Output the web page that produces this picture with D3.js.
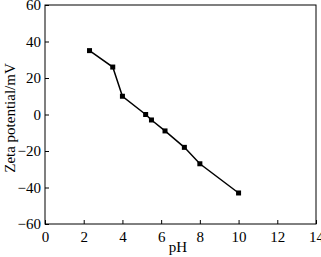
<html>
<script src="https://cdn.jsdelivr.net/npm/d3@7/dist/d3.min.js"></script>
<style>
body { margin:0; background:#fff; }
text { font-family: "Liberation Serif", "Times New Roman", serif; }
</style>
<body>
<div id="chart"></div>
</body>
<script>

// data
pH   = [2.3, 3.5, 4.0, 5.2, 5.5, 6.2, 7.2, 8.0, 10.0]
zeta = [35, 26, 10, 0, -3, -9, -18, -27, -43]
xTicks = [0, 2, 4, 6, 8, 10, 12, 14]
yTicks = [-60, -40, -20, 0, 20, 40, 60]

W = 321, H = 257
m = {left:45, right:316, top:5, bottom:224}

svg = d3.select("#chart").append("svg").attr("width",W).attr("height",H)

x = d3.scaleLinear().domain([0,14]).range([m.left, m.right])
y = d3.scaleLinear().domain([-60,60]).range([m.bottom, m.top])

// frame
svg.append("rect").attr("x",m.left).attr("y",m.top)
	.attr("width",m.right-m.left).attr("height",m.bottom-m.top)
	.attr("fill","none").attr("stroke","black").attr("stroke-width",1)

xAxis = svg.append("g").attr("transform","translate(0,"+m.bottom+")")
	.call(d3.axisBottom(x).tickValues(xTicks).tickSizeInner(-4).tickSizeOuter(0).tickPadding(7))
yAxis = svg.append("g").attr("transform","translate("+m.left+",0)")
	.call(d3.axisLeft(y).tickValues(yTicks).tickSizeInner(-4).tickSizeOuter(0).tickPadding(4)
	.tickFormat(function(d){ return d < 0 ? "\u2212"+Math.abs(d) : d }))

svg.selectAll(".domain").remove()
svg.selectAll(".tick text").attr("font-size",15).attr("fill","black")
	.attr("font-family","'Liberation Serif', serif")
svg.selectAll(".tick line").attr("stroke","black")

// axis titles
svg.append("text").attr("x",178).attr("y",252)
	.attr("text-anchor","middle").attr("font-size",15).text("pH")
svg.append("text").attr("transform","translate(15,118) rotate(-90)")
	.attr("text-anchor","middle").attr("font-size",15).text("Zeta potential/mV")

pts = pH.map(function(d,i){ return [d, zeta[i]] })

line = d3.line().x(function(d){return x(d[0])}).y(function(d){return y(d[1])})
svg.append("path").datum(pts).attr("d",line)
	.attr("fill","none").attr("stroke","black").attr("stroke-width",1.5)

svg.append("g").selectAll("rect").data(pts).enter().append("rect")
	.attr("x",function(d){return x(d[0])-2.5}).attr("y",function(d){return y(d[1])-2.5})
	.attr("width",5).attr("height",5).attr("fill","black")

</script>
</html>
